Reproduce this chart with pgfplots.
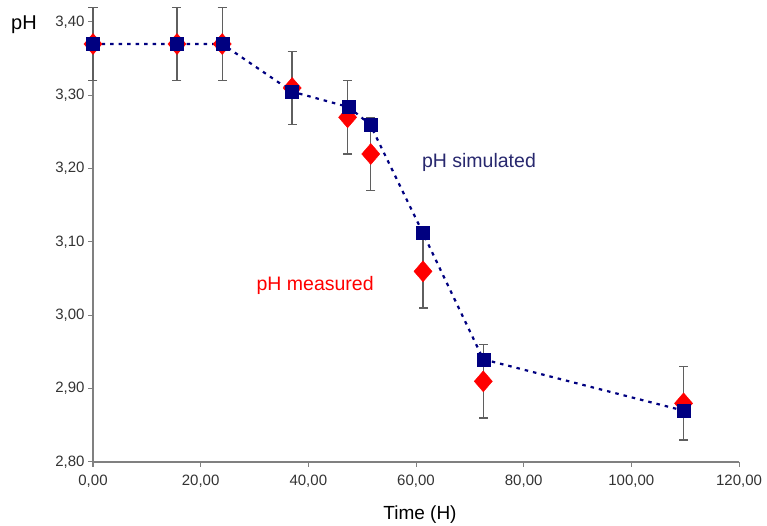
\documentclass[border=0pt]{standalone}
\usepackage{pgfplots}
\pgfplotsset{compat=1.18}
\usepackage{fontspec}
\setmainfont{Liberation Sans}
\definecolor{simblue}{RGB}{0,0,128}
\definecolor{simtext}{RGB}{40,40,110}
\definecolor{axgray}{RGB}{128,128,128}
\definecolor{errgray}{RGB}{95,95,95}
\begin{document}
\begin{tikzpicture}
  \path[use as bounding box] (-93pt,-64pt) rectangle (674pt,462pt);
  \begin{axis}[
      at={(0,0)}, anchor=south west,
      scale only axis, width=646pt, height=440pt,
      xmin=0, xmax=120,
      ymin=2.80, ymax=3.40,
      axis x line=bottom, axis y line=left,
      axis line style={axgray, line width=1.6pt, -},
      xtick={0,20,40,60,80,100,120},
      xticklabels={{0,00},{20,00},{40,00},{60,00},{80,00},{100,00},{120,00}},
      ytick={2.8,2.9,3.0,3.1,3.2,3.3,3.4},
      yticklabels={{2,80},{2,90},{3,00},{3,10},{3,20},{3,30},{3,40}},
      tick style={axgray, line width=1pt},
      major tick length=5pt, tick align=outside,
      ticklabel style={font=\fontsize{15}{18}\selectfont, text=black!80},
      xticklabel style={yshift=-4pt},
      xlabel={Time (H)},
      xlabel style={font=\fontsize{19}{22}\selectfont, at={(axis description cs:0.5,0)}, anchor=center, yshift=-53pt, xshift=4pt},
      ylabel={pH},
      ylabel style={font=\fontsize{20}{22}\selectfont, rotate=-90, at={(axis description cs:0,1)}, anchor=center, xshift=-69pt, yshift=-3pt},
      clip=false,
    ]
    % pH measured
    \addplot[
      only marks,
      mark=diamond*,
      mark size=10.5pt,
      mark options={xscale=1.15, fill=red, draw=red},
      error bars/.cd,
        y dir=both, y fixed=0.05,
        error bar style={errgray, line width=1.4pt},
        error mark options={rotate=90, errgray, mark size=4.5pt, line width=1.4pt},
    ]
    coordinates {
      (0,    3.37)
      (15.6, 3.37)
      (24,   3.37)
      (37,   3.31)
      (47.3, 3.27)
      (51.6, 3.22)
      (61.3, 3.06)
      (72.5, 2.91)
      (109.7,2.88)
    };
    % pH simulated
    \addplot[
      simblue,
      line width=2.2pt,
      dash pattern=on 3.5pt off 5pt,
      mark=square*,
      mark size=6.5pt,
      mark options={solid, fill=simblue, draw=simblue, line width=0.4pt},
    ]
    coordinates {
      (0,    3.37)
      (15.6, 3.37)
      (24,   3.37)
      (37,   3.305)
      (47.5, 3.284)
      (51.5, 3.26)
      (61.3, 3.112)
      (72.5, 2.94)
      (109.7,2.87)
    };
    \node[text=simtext, font=\fontsize{19.5}{22}\selectfont] at (axis cs:71.7,3.208) {pH simulated};
    \node[text=red, font=\fontsize{19.5}{22}\selectfont, anchor=east] at (axis cs:52.8,3.041) {pH measured};
  \end{axis}
\end{tikzpicture}
\end{document}
